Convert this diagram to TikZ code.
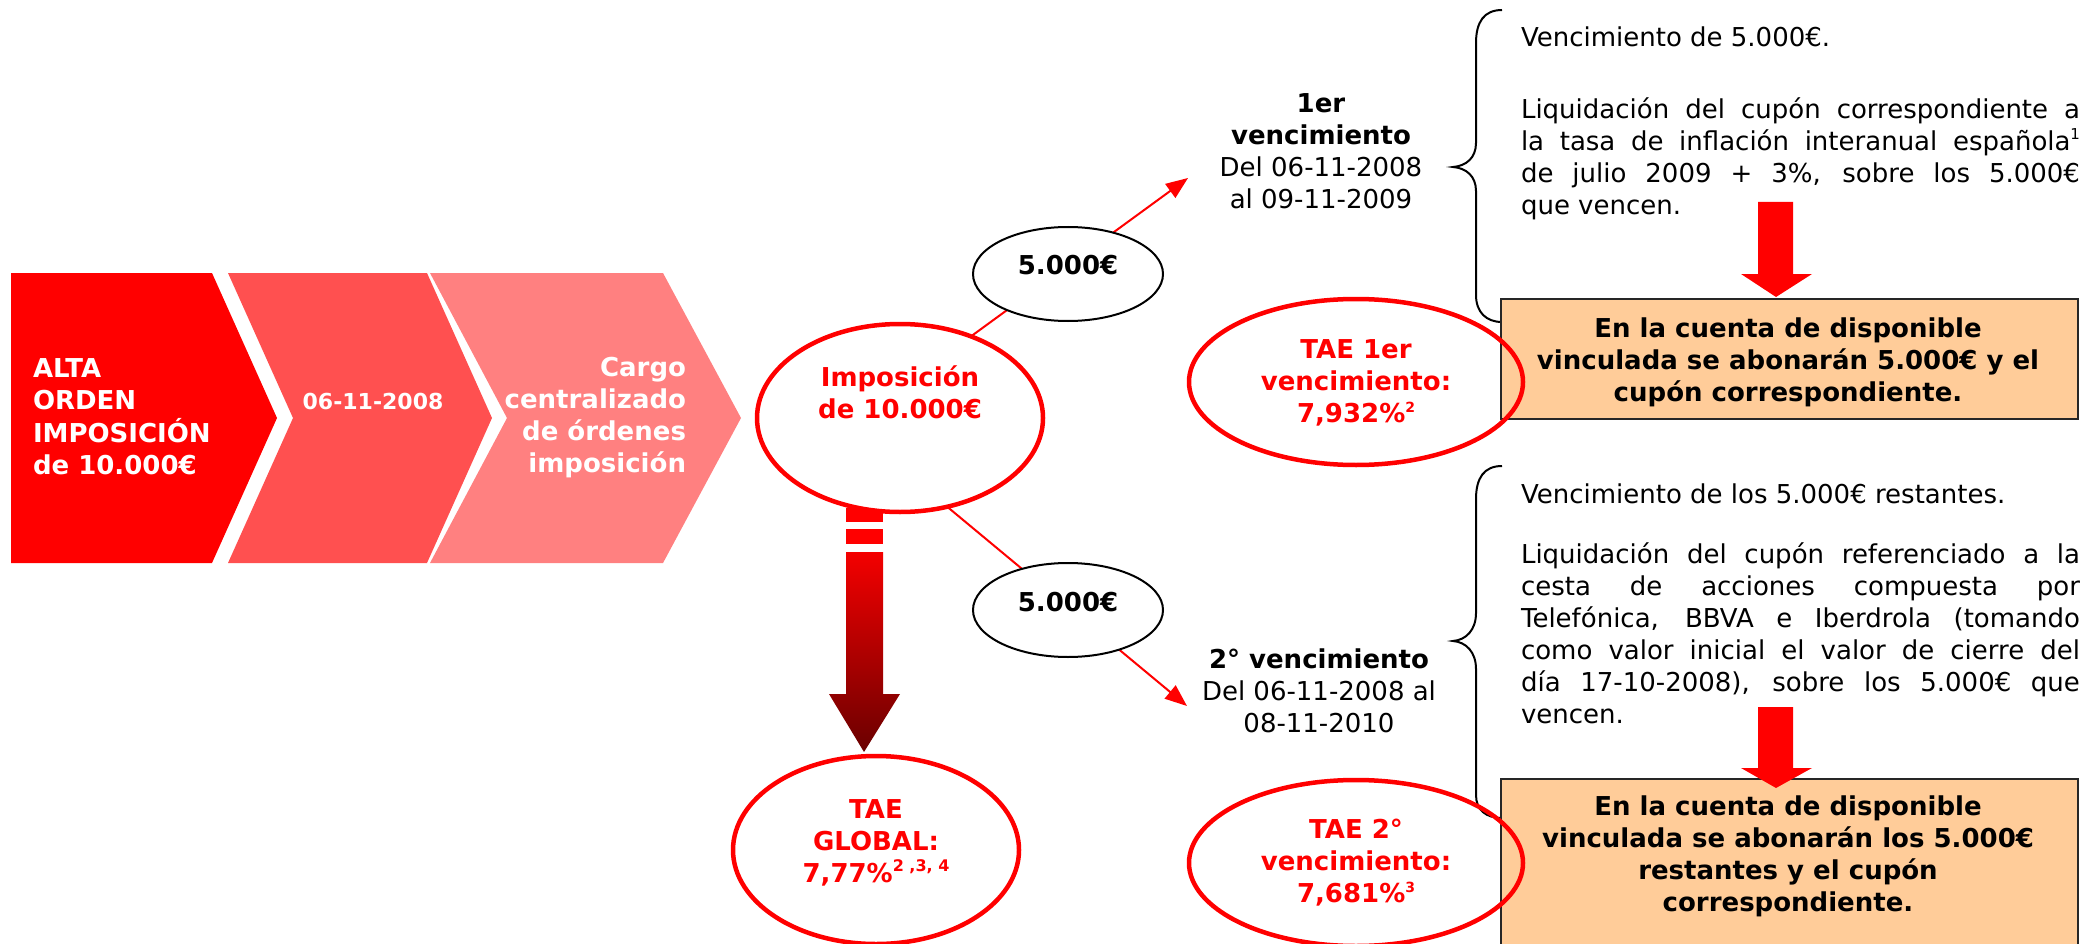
\documentclass[tikz,border=0pt]{standalone}
\usepackage{fontspec}
\setmainfont{DejaVu Sans}
\usetikzlibrary{arrows.meta,shapes.geometric}
\definecolor{cred}{HTML}{FF0000}
\definecolor{cmid}{HTML}{FF5050}
\definecolor{clight}{HTML}{FF8080}
\definecolor{boxfill}{HTML}{FFCC99}
\definecolor{gtop}{HTML}{F40000}
\definecolor{gbot}{HTML}{6A0000}
\newcommand\supsm[1]{\raisebox{10pt}{\fontsize{14}{14}\selectfont #1}}
\newcommand\supgl[1]{\raisebox{11pt}{\fontsize{16}{16}\selectfont #1}}
\newcommand\supra[1]{\raisebox{11pt}{\fontsize{15}{15}\selectfont #1}}
\newcommand\jl[1]{\makebox[559pt][s]{#1}}
\begin{document}
\begin{tikzpicture}[x=1pt,y=-1pt,
  bold/.style={font=\fontsize{26}{32}\selectfont\bfseries},
  reg/.style={font=\fontsize{26}{32}\selectfont},
  txt/.style={inner sep=0pt, outer sep=0pt},
  redell/.style={ellipse, draw=cred, line width=4.5pt, inner sep=0pt, outer sep=0pt},
  blkell/.style={ellipse, draw=black, line width=2pt, fill=white, minimum width=190pt, minimum height=94pt, inner sep=0pt, outer sep=0pt},
  conn/.style={draw=cred, line width=2pt, -{Triangle[length=22pt,width=17pt]}},
  bracepath/.style={draw=black, line width=2pt},
  infobox/.style={rectangle, draw=black!85, line width=2pt, fill=boxfill, inner sep=0pt, anchor=north west},
  blockarr/.style={fill=cred, draw=none}]
\useasboundingbox (0,0) rectangle (2085,944);

% chevrons
\fill[cred] (11,273) -- (212,273) -- (277,418) -- (212,563) -- (11,563) -- cycle;
\fill[cmid] (228,273) -- (427,273) -- (492,418) -- (427,563) -- (228,563) -- (293,418) -- cycle;
\fill[clight] (430,273) -- (663,273) -- (741,418) -- (663,563) -- (430,563) -- (507,418) -- cycle;
\node[txt, anchor=base west, white, bold] (c1t) at (33,377)
  {\begin{tabular}[t]{@{}l@{}}ALTA\\ORDEN\\IMPOSICIÓN\\de 10.000€\end{tabular}};
\node[txt, anchor=base, white, font=\fontsize{22}{26}\selectfont\bfseries] (c2t) at (373,409) {06-11-2008};
\node[txt, anchor=base east, white, bold] (c3t) at (686,376)
  {\begin{tabular}[t]{@{}r@{}}Cargo\\centralizado\\de órdenes\\imposición\end{tabular}};

% global block arrow
\fill[cred] (846,508) rectangle (883,522);
\fill[cred] (846,529) rectangle (883,544);
\shade[top color=gtop, bottom color=gbot] (846,552) -- (883,552) -- (883,694) -- (900,694) -- (864,752) -- (829,694) -- (846,694) -- cycle;

% main ellipses
\node[redell, fill=white, minimum width=286pt, minimum height=188pt] (imp) at (900,418) {};
\node[txt, anchor=base, cred, bold] (impt) at (900,386)
  {\begin{tabular}[t]{@{}c@{}}Imposición\\de 10.000€\end{tabular}};
\node[redell, fill=white, minimum width=286pt, minimum height=188pt] (glob) at (876,850) {};
\node[txt, anchor=base, cred, bold] (globt) at (876,818)
  {\begin{tabular}[t]{@{}c@{}}TAE\\GLOBAL:\\7,77\%\supgl{2 ,3, 4}\end{tabular}};

% connectors
\coordinate (tip1) at (1188,178);
\coordinate (tip2) at (1187,706);
\draw[conn] (imp.49) -- (tip1);
\draw[conn] (imp.-62) -- (tip2);
\node[blkell] (u5) at (1068,274) {};
\node[txt, anchor=base, bold] (u5t) at (1068,274) {5.000€};
\node[blkell] (l5) at (1068,610) {};
\node[txt, anchor=base, bold] (l5t) at (1068,611) {5.000€};

% maturity labels
\node[txt, anchor=base, reg] (v1) at (1321,113)
  {\begin{tabular}[t]{@{}c@{}}\textbf{1er}\\\textbf{vencimiento}\\Del 06-11-2008\\al 09-11-2009\end{tabular}};
\node[txt, anchor=base, reg] (v2) at (1319,668)
  {\begin{tabular}[t]{@{}c@{}}\textbf{2° vencimiento}\\Del 06-11-2008 al\\08-11-2010\end{tabular}};

% braces
\draw[bracepath] (1502,10) .. controls (1484,10) and (1476,22) .. (1476,43) -- (1476,143)
  .. controls (1476,158) and (1466,166) .. (1453,167)
  .. controls (1466,168) and (1476,176) .. (1476,191) -- (1476,295)
  .. controls (1476,312) and (1486,322) .. (1502,322);
\draw[bracepath] (1502,466) .. controls (1484,466) and (1476,478) .. (1476,499) -- (1476,613)
  .. controls (1476,630) and (1466,640) .. (1453,641)
  .. controls (1466,642) and (1476,652) .. (1476,669) -- (1476,795)
  .. controls (1476,810) and (1486,818) .. (1502,818);

% right descriptions
\node[txt, anchor=base west, reg] (d1) at (1521,47)
  {\begin{tabular}[t]{@{}l@{}}Vencimiento de 5.000€.\\[40pt]
   \jl{Liquidación del cupón correspondiente a}\\
   \jl{la tasa de inflación interanual española\supra{1}}\\
   \jl{de julio 2009 + 3\%, sobre los 5.000€}\\
   que vencen.\end{tabular}};
\node[txt, anchor=base west, reg] (d2) at (1521,503)
  {\begin{tabular}[t]{@{}l@{}}Vencimiento de los 5.000€ restantes.\\[28pt]
   \jl{Liquidación del cupón referenciado a la}\\
   \jl{cesta de acciones compuesta por}\\
   \jl{Telefónica, BBVA e Iberdrola (tomando}\\
   \jl{como valor inicial el valor de cierre del}\\
   \jl{día 17-10-2008), sobre los 5.000€ que}\\
   vencen.\end{tabular}};

% boxes
\node[infobox, minimum width=577pt, minimum height=120pt] (box1) at (1500,298) {};
\node[txt, anchor=base, bold] (box1t) at (1788,337)
  {\begin{tabular}[t]{@{}c@{}}En la cuenta de disponible\\vinculada se abonarán 5.000€ y el\\cupón correspondiente.\end{tabular}};
\node[infobox, minimum width=577pt, minimum height=190pt] (box2) at (1500,778) {};
\node[txt, anchor=base, bold] (box2t) at (1788,815)
  {\begin{tabular}[t]{@{}c@{}}En la cuenta de disponible\\vinculada se abonarán los 5.000€\\restantes y el cupón\\correspondiente.\end{tabular}};

% red down arrows
\fill[blockarr] (1758,202) -- (1793,202) -- (1793,274) -- (1812,274) -- (1776,297) -- (1741,274) -- (1758,274) -- cycle;
\fill[blockarr] (1758,707) -- (1793,707) -- (1793,768) -- (1812,768) -- (1776,788) -- (1741,768) -- (1758,768) -- cycle;

% TAE ellipses
\node[redell, minimum width=334pt, minimum height=166pt] (tae1) at (1356,382) {};
\node[txt, anchor=base, cred, bold] (tae1t) at (1356,358)
  {\begin{tabular}[t]{@{}c@{}}TAE 1er\\vencimiento:\\7,932\%\supsm{2}\end{tabular}};
\node[redell, minimum width=334pt, minimum height=166pt] (tae2) at (1356,863) {};
\node[txt, anchor=base, cred, bold] (tae2t) at (1356,838)
  {\begin{tabular}[t]{@{}c@{}}TAE 2°\\vencimiento:\\7,681\%\supsm{3}\end{tabular}};
\end{tikzpicture}
\end{document}
